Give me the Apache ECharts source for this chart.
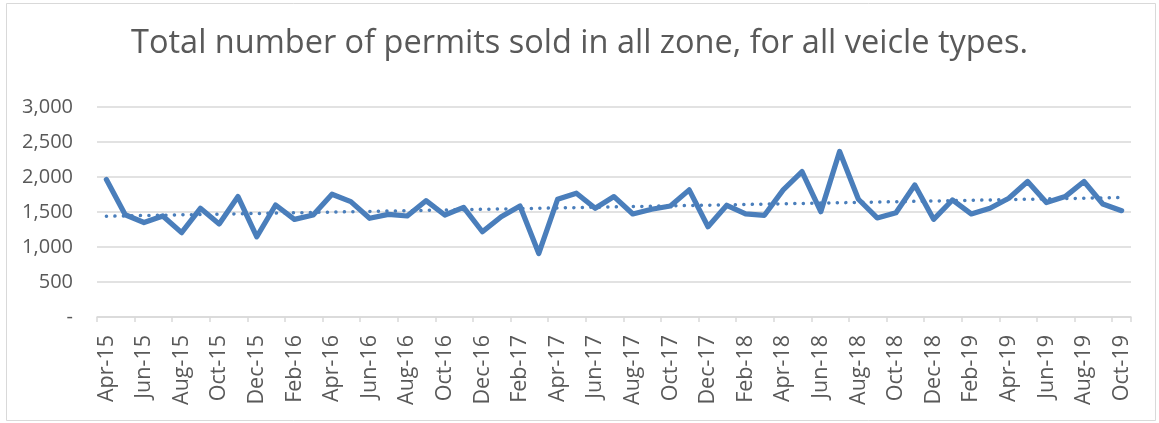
<!DOCTYPE html>
<html>
<head>
<meta charset="utf-8">
<script src="https://cdn.jsdelivr.net/npm/echarts@6/dist/echarts.min.js"></script>
<style>
html,body{margin:0;padding:0;background:#fff;}
#c{width:1159px;height:423px;}
</style>
</head>
<body>
<div id="c"></div>
<script>
var titleText = 'Total number of permits sold in all zone, for all veicle types.';
var months = ['Apr-15','May-15','Jun-15','Jul-15','Aug-15','Sep-15','Oct-15','Nov-15','Dec-15','Jan-16','Feb-16','Mar-16',
  'Apr-16','May-16','Jun-16','Jul-16','Aug-16','Sep-16','Oct-16','Nov-16','Dec-16','Jan-17','Feb-17','Mar-17',
  'Apr-17','May-17','Jun-17','Jul-17','Aug-17','Sep-17','Oct-17','Nov-17','Dec-17','Jan-18','Feb-18','Mar-18',
  'Apr-18','May-18','Jun-18','Jul-18','Aug-18','Sep-18','Oct-18','Nov-18','Dec-18','Jan-19','Feb-19','Mar-19',
  'Apr-19','May-19','Jun-19','Jul-19','Aug-19','Sep-19','Oct-19'];
var permits = [1965,1460,1350,1443,1205,1553,1330,1720,1146,1600,1395,1457,
  1754,1648,1410,1467,1443,1662,1457,1567,1218,1433,1586,908,
  1682,1768,1553,1720,1472,1539,1586,1816,1290,1596,1472,1453,
  1816,2078,1505,2364,1682,1415,1490,1887,1395,1672,1472,1553,
  1697,1935,1634,1720,1935,1615,1519];
var yTicks = [0,500,1000,1500,2000,2500,3000];

// Linear trendline (least squares) computed from the series
var n = permits.length, sx=0, sy=0, sxy=0, sxx=0;
for (var i=0;i<n;i++){ sx+=i; sy+=permits[i]; sxy+=i*permits[i]; sxx+=i*i; }
var slope = (n*sxy - sx*sy)/(n*sxx - sx*sx);
var icpt = (sy - slope*sx)/n;
var trend = permits.map(function(_,i){ return +(icpt + slope*i).toFixed(1); });

var chart = echarts.init(document.getElementById('c'), null, {renderer:'canvas'});
var txt = '#595959', grid = '#d9d9d9', blue = '#4a7ebb';
chart.setOption({
  animation:false,
  backgroundColor:'#fff',
  graphic:[{type:'rect', shape:{x:6.5,y:3.5,width:1149,height:417}, style:{fill:'none', stroke:grid, lineWidth:1}, silent:true}],
  title:{text:titleText, left:'center', top:22,
    textStyle:{fontFamily:'Open Sans', fontSize:32.5, fontWeight:'normal', color:txt}},
  grid:{left:97, right:28, top:107, bottom:106},
  xAxis:{type:'category', data:months, boundaryGap:true,
    axisLine:{lineStyle:{color:grid, width:1.5}},
    axisTick:{show:true, interval:1, length:5, lineStyle:{color:grid, width:1.5}},
    axisLabel:{interval:1, rotate:90, color:txt, fontFamily:'Open Sans', fontSize:21.5, margin:18}},
  yAxis:{type:'value', min:0, max:3000, interval:500,
    axisLine:{show:false}, axisTick:{show:false},
    splitLine:{lineStyle:{color:grid, width:1.5}},
    axisLabel:{color:txt, fontFamily:'Open Sans', fontSize:20, margin:24,
      formatter:function(v){ return v===0 ? '-' : v.toLocaleString('en-US'); }}},
  series:[
    {type:'line', data:permits, symbol:'none', lineStyle:{color:blue, width:5.25, cap:'round', join:'round'}, z:3},
    {type:'line', data:trend, symbol:'none', lineStyle:{color:blue, width:3.5, type:[0.1,8.4], cap:'round'}, z:2}
  ]
});
</script>
</body>
</html>
